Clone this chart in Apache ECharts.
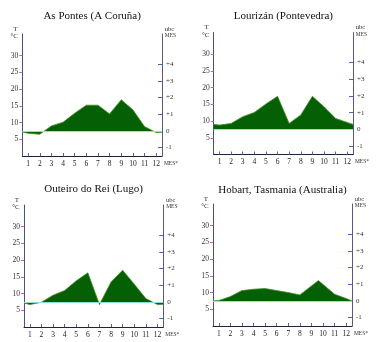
<!DOCTYPE html>
<html>
<head>
<meta charset="utf-8">
<script src="https://cdn.jsdelivr.net/npm/echarts@6/dist/echarts.min.js"></script>
<style>
  html, body { margin: 0; padding: 0; background: #fff; }
  #chart { width: 377px; height: 342px; }
</style>
</head>
<body>
<div id="chart"></div>
<script>
// Station names
const stations = [
  'As Pontes (A Coruña)',
  'Lourizán (Pontevedra)',
  'Outeiro do Rei (Lugo)',
  'Hobart, Tasmania (Australia)'
];

// Month positions (0.5 and 12.5 are the plot edges)
const monthsStd = [0.5, 1, 2, 3, 4, 5, 6, 7, 8, 9, 10, 11, 12, 12.5];
const monthsHobart = [0.5, 1, 2, 3, 4, 5, 6, 7, 8, 9.6, 11, 12, 12.5];

// Mean temperature, °C
const tempAsPontes = [7.2, 6.8, 6.5, 9.0, 10.1, 12.8, 15.2, 15.2, 12.6, 16.8, 13.8, 8.8, 7.0, 7.1];
const tempLourizan = [9.0, 8.8, 9.3, 11.3, 12.6, 15.1, 17.4, 9.3, 11.8, 17.4, 14.3, 10.8, 9.6, 9.0];
const tempOuteiro = [7.2, 6.7, 7.4, 9.5, 10.9, 13.8, 16.2, 6.7, 13.5, 17.0, 12.8, 8.5, 6.7, 6.8];
const tempHobart = [7.5, 7.6, 8.8, 10.6, 11.0, 11.2, 10.6, 10.0, 9.3, 13.6, 9.5, 8.2, 7.5];

// Tick labels
const monthTicks = [1, 2, 3, 4, 5, 6, 7, 8, 9, 10, 11, 12];
const tempTicks = [5, 10, 15, 20, 25, 30];
const ubcTicks = [-1, 0, 1, 2, 3, 4];

// Bioclimatic threshold: 7.5 °C = 0 ubc, 5 °C per unit
const BASE = 7.5;
const STEP = 5;
const T_MAX = 36.5;

const xsList = [monthsStd, monthsStd, monthsStd, monthsHobart];
const tsList = [tempAsPontes, tempLourizan, tempOuteiro, tempHobart];

// Panel frames (px)
const panels = [
  { left: 22.3, top: 34, width: 139.7, height: 122 },
  { left: 213.7, top: 32.5, width: 139.3, height: 122 },
  { left: 24, top: 205, width: 139.3, height: 122 },
  { left: 213, top: 204, width: 139, height: 122 }
];
const titleY = [16, 16, 189, 190];

const serif = '"Liberation Serif", "DejaVu Serif", serif';
const FILL = '#056005';

const grid = [], xAxis = [], yAxis = [], series = [], graphic = [];

panels.forEach((p, i) => {
  grid.push({ left: p.left, top: p.top, width: p.width, height: p.height });

  xAxis.push({
    type: 'value', gridIndex: i, min: 0.5, max: 12.5,
    axisLine: { show: true, onZero: false, lineStyle: { color: '#1c2240', width: 1 } },
    axisTick: { show: true, inside: true, length: 3, customValues: monthTicks,
                lineStyle: { color: '#5566aa' } },
    axisLabel: { customValues: monthTicks, margin: 4, fontFamily: serif, fontSize: 7.5, color: '#222' },
    splitLine: { show: false }
  });

  // left: temperature
  yAxis.push({
    type: 'value', gridIndex: i, min: 0, max: T_MAX, position: 'left',
    axisLine: { show: true, lineStyle: { color: '#4a4f8a', width: 1 } },
    axisTick: { show: true, length: 3, customValues: tempTicks, lineStyle: { color: '#c060c0' } },
    axisLabel: { customValues: tempTicks, margin: 4, fontFamily: serif, fontSize: 7.5, color: '#333' },
    splitLine: { show: false }
  });
  // right: ubc per month
  yAxis.push({
    type: 'value', gridIndex: i, position: 'right',
    min: (0 - BASE) / STEP, max: (T_MAX - BASE) / STEP,
    axisLine: { show: true, lineStyle: { color: '#555a80', width: 1 } },
    axisTick: { show: true, inside: true, length: 4, customValues: ubcTicks, lineStyle: { color: '#4466cc' } },
    axisLabel: { customValues: ubcTicks, margin: 4, fontFamily: serif, fontSize: 7, color: '#333',
                 formatter: v => (v > 0 ? '+' + v : String(v)) },
    splitLine: { show: false }
  });

  const xs = xsList[i], ts = tsList[i];
  series.push({
    type: 'line', xAxisIndex: i, yAxisIndex: i * 2,
    data: xs.map((x, k) => [x, ts[k]]),
    symbol: 'none', smooth: false,
    lineStyle: { color: '#3f8f20', width: 0.8 },
    areaStyle: { origin: BASE, color: FILL, opacity: 1 },
    markLine: {
      silent: true, symbol: 'none', label: { show: false },
      lineStyle: { color: '#8fe0d0', width: 1, type: 'solid' },
      data: [{ yAxis: BASE }]
    },
    z: 2
  });

  const right = p.left + p.width, bottom = p.top + p.height;
  graphic.push(
    { type: 'text', x: p.left + p.width / 2, y: titleY[i],
      style: { text: stations[i], font: '11px ' + serif, fill: '#111', align: 'center', verticalAlign: 'middle' } },
    { type: 'text', x: p.left - 7, y: p.top - 5,
      style: { text: 'T', font: '7px ' + serif, fill: '#333', align: 'center', verticalAlign: 'middle' } },
    { type: 'text', x: p.left - 8, y: p.top + 2.5,
      style: { text: '°C', font: '7px ' + serif, fill: '#333', align: 'center', verticalAlign: 'middle' } },
    { type: 'text', x: right + 7.5, y: p.top - 5,
      style: { text: 'ubc', font: '6.5px ' + serif, fill: '#333', align: 'center', verticalAlign: 'middle' } },
    { type: 'text', x: right + 8.5, y: p.top + 2,
      style: { text: 'MES', font: '5.5px ' + serif, fill: '#333', align: 'center', verticalAlign: 'middle' } },
    { type: 'text', x: right + 9, y: bottom + 7.5,
      style: { text: 'MES*', font: '5.5px ' + serif, fill: '#333', align: 'center', verticalAlign: 'middle' } }
  );
});

const chart = echarts.init(document.getElementById('chart'), null, { renderer: 'canvas' });
chart.setOption({
  animation: false,
  backgroundColor: '#fff',
  grid, xAxis, yAxis, series,
  graphic: { elements: graphic }
});
</script>
</body>
</html>
